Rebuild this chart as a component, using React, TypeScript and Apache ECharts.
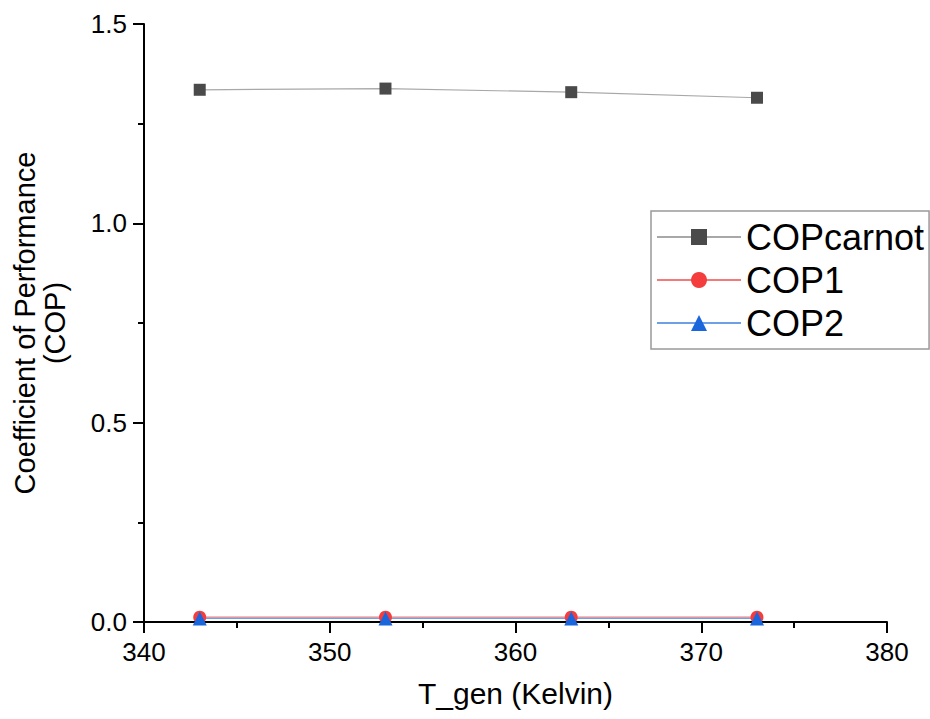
import React, { useEffect, useRef } from "react";
import * as echarts from "echarts";

const tGen = [343, 353, 363, 373];
const copCarnot = [1.335, 1.338, 1.329, 1.315];
const cop1 = [0.012, 0.012, 0.012, 0.012];
const cop2 = [0.009, 0.009, 0.009, 0.009];
const seriesNames = ["COPcarnot", "COP1", "COP2"];

export default function App() {
  const ref = useRef<HTMLDivElement>(null);
  useEffect(() => {
    if (!ref.current) return;
    const chart = echarts.init(ref.current, undefined, { renderer: "svg" });
    const font = "Liberation Sans, Arial, sans-serif";
    const axisCommon = {
      axisLine: { show: true, lineStyle: { color: "#000", width: 2 } },
      axisTick: { show: true, inside: false, length: 11, lineStyle: { color: "#000", width: 2 } },
      minorTick: { show: true, splitNumber: 2, length: 6, lineStyle: { color: "#000", width: 2 } },
      splitLine: { show: false },
    };
    const mk = (arr: number[]) => tGen.map((t, i) => [t, arr[i]]);
    chart.setOption({
      animation: false,
      backgroundColor: "#fff",
      grid: {
        left: 144,
        right: 43,
        top: 24,
        bottom: 97,
        containLabel: false,
        outerBoundsMode: "none",
      },
      xAxis: {
        type: "value",
        min: 340,
        max: 380,
        interval: 10,
        name: "T_gen (Kelvin)",
        nameLocation: "middle",
        nameGap: 56,
        nameTextStyle: { fontFamily: font, fontSize: 30, color: "#000" },
        axisLabel: { fontFamily: font, fontSize: 26, color: "#000", margin: 17 },
        ...axisCommon,
      },
      yAxis: {
        type: "value",
        min: 0,
        max: 1.5,
        interval: 0.5,
        name: "Coefficient of Performance\n(COP)",
        nameLocation: "middle",
        nameGap: 74,
        nameTextStyle: { fontFamily: font, fontSize: 29, color: "#000", lineHeight: 30 },
        axisLabel: {
          fontFamily: font,
          fontSize: 26,
          color: "#000",
          margin: 17,
          formatter: (v: number) => v.toFixed(1),
        },
        ...axisCommon,
      },
      legend: {
        orient: "vertical",
        left: 651,
        top: 211,
        padding: [8, 5, 8, 5],
        itemGap: 7,
        itemWidth: 84,
        itemHeight: 20,
        borderColor: "#999",
        borderWidth: 1.5,
        borderRadius: 0,
        textStyle: { fontFamily: font, fontSize: 36, color: "#000" },
        data: seriesNames,
      },
      series: [
        {
          name: seriesNames[0],
          type: "line",
          data: mk(copCarnot),
          symbol: "rect",
          symbolSize: 12,
          itemStyle: { color: "#4a4a4a" },
          lineStyle: { color: "#a8a8a8", width: 1.2 },
        },
        {
          name: seriesNames[1],
          type: "line",
          data: mk(cop1),
          symbol: "circle",
          symbolSize: 13,
          itemStyle: { color: "#f43e3e" },
          lineStyle: { color: "#f47a7a", width: 1.2 },
        },
        {
          name: seriesNames[2],
          type: "line",
          data: mk(cop2),
          symbol: "triangle",
          symbolSize: 14,
          itemStyle: { color: "#1a66dd" },
          lineStyle: { color: "#6f9fe6", width: 1.2 },
        },
      ],
    });
    return () => chart.dispose();
  }, []);
  return (
    <div
      ref={ref}
      style={{ position: "fixed", left: 0, top: 0, width: 930, height: 719 }}
    />
  );
}
